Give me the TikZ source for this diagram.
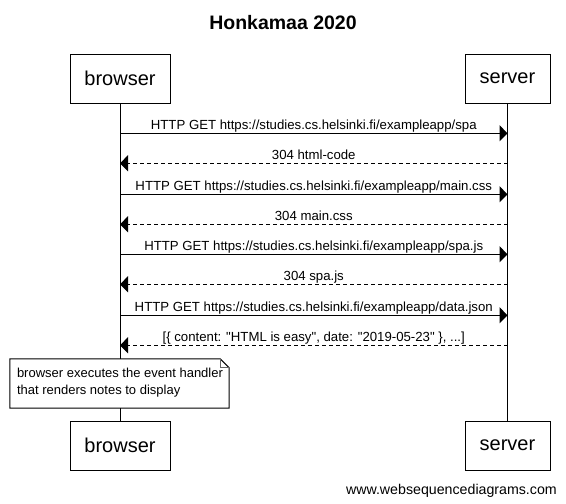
\documentclass[tikz,border=0pt]{standalone}
\usepackage{fontspec}
\setmainfont{Liberation Sans}
\newfontfamily\plainsans{Liberation Sans}
\usetikzlibrary{arrows.meta}
\begin{document}
\begin{tikzpicture}[x=1pt,y=-1pt,
  actor/.style={draw,line width=1pt,minimum height=49pt,inner sep=0pt,font=\fontsize{20}{24}\selectfont},
  life/.style={line width=1pt},
  msg/.style={line width=1pt,-{Triangle[length=8pt,width=16pt]}},
  reply/.style={msg,dash pattern=on 4pt off 3pt},
  lbl/.style={font=\plainsans\fontsize{13.2}{15}\selectfont,inner sep=0pt,anchor=base,midway,yshift=3.5pt},
  noteframe/.style={fill=white,inner sep=0pt,minimum width=219pt,minimum height=49pt},
  notetext/.style={inner sep=0pt,align=left,font=\fontsize{13}{17.5}\selectfont},
  outline/.style={line width=1pt},
  fold/.style={line width=0.7pt,draw=black!60}
]
\useasboundingbox[fill=white] (0,0) rectangle (566,504);

\node[font=\bfseries\fontsize{19.5}{23}\selectfont] (title) at (283,22.5) {Honkamaa 2020};

\node[actor,minimum width=100pt] (bt) at (120,78.5) {browser};
\node[actor,minimum width=85pt]  (st) at (507.5,78.5) {server};
\node[actor,minimum width=100pt] (bb) at (120,445.5) {browser};
\node[actor,minimum width=85pt]  (sb) at (507.5,445.5) {server};

\draw[life] (bt.south) -- (bb.north);
\draw[life] (st.south) -- (sb.north);

\foreach \i/\y in {1/133.3,2/163.3,3/194.3,4/224.3,5/254.3,6/284.3,7/315.3,8/345.3}{
  \coordinate (b\i) at (120,\y);
  \coordinate (s\i) at (507.5,\y);
}

\draw[msg]   (b1) -- (s1) node[lbl] {HTTP GET https://studies.cs.helsinki.fi/exampleapp/spa};
\draw[reply] (s2) -- (b2) node[lbl] {304 html-code};
\draw[msg]   (b3) -- (s3) node[lbl] {HTTP GET https://studies.cs.helsinki.fi/exampleapp/main.css};
\draw[reply] (s4) -- (b4) node[lbl] {304 main.css};
\draw[msg]   (b5) -- (s5) node[lbl] {HTTP GET https://studies.cs.helsinki.fi/exampleapp/spa.js};
\draw[reply] (s6) -- (b6) node[lbl] {304 spa.js};
\draw[msg]   (b7) -- (s7) node[lbl] {HTTP GET https://studies.cs.helsinki.fi/exampleapp/data.json};
\draw[reply] (s8) -- (b8) node[lbl] {[\{ content: "HTML is easy", date: "2019-05-23" \}, ...]};

\node[noteframe] (note) at (119.5,383.5) {};
\draw[outline] (note.north west) -- ([xshift=-9pt]note.north east) -- ([yshift=-9pt]note.north east)
  -- (note.south east) -- (note.south west) -- cycle;
\draw[fold] ([xshift=-9pt]note.north east) -- ([xshift=-9pt,yshift=-9pt]note.north east) -- ([yshift=-9pt]note.north east);
\node[notetext,anchor=west] (notetxt) at ([xshift=7pt,yshift=1pt]note.west) {browser executes the event handler\\that renders notes to display};

\node[font=\fontsize{14.2}{17}\selectfont,inner sep=0pt,anchor=base east] (credit) at (557,494) {www.websequencediagrams.com};
\end{tikzpicture}
\end{document}
